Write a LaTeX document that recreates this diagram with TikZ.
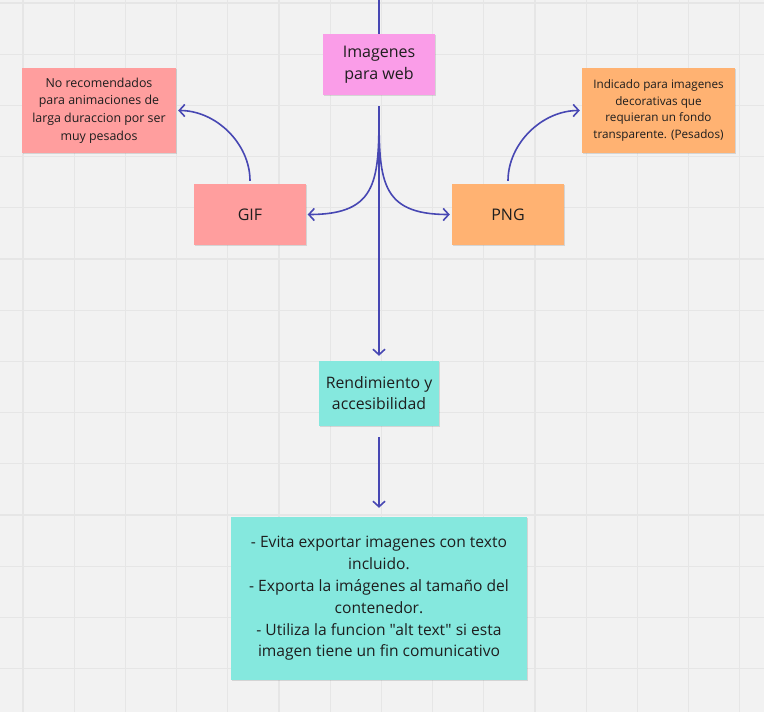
\documentclass[tikz,border=0pt]{standalone}
\usepackage{fontspec}
\setmainfont{Open Sans}[Ligatures=TeXOff]
\usetikzlibrary{arrows.meta,shadows}
\definecolor{bgc}{HTML}{F2F2F2}
\definecolor{gridc}{HTML}{E6E6E6}
\definecolor{pinkc}{HTML}{FA9DE8}
\definecolor{salmonc}{HTML}{FF9E9E}
\definecolor{orangec}{HTML}{FFB272}
\definecolor{tealc}{HTML}{85E8DE}
\definecolor{linkc}{HTML}{4747B3}
\definecolor{txtc}{HTML}{1E1E1E}
\tikzset{
  sticky/.style={rectangle, inner sep=0pt, align=center, text=txtc,
    drop shadow={shadow xshift=0.5pt, shadow yshift=-1.2pt, opacity=0.12, fill=black}},
  link/.style={draw=linkc, line width=1.6pt,
    -{Straight Barb[length=5.5pt,width=12pt,line width=1.6pt]}},
  plainlink/.style={draw=linkc, line width=1.6pt},
}
\begin{document}
\begin{tikzpicture}[x=1pt,y=-1pt]
\useasboundingbox (0,0) rectangle (764,712);
\fill[bgc] (0,0) rectangle (764,712);
\foreach \k in {0,...,14} {
  \draw[gridc, line width=1.3pt] ({23+51.2*\k},0) -- ({23+51.2*\k},712);
  \draw[gridc, line width=1.3pt] (0,{3+51.2*\k}) -- (764,{3+51.2*\k});
}
% nodes
\node[sticky, fill=pinkc, minimum width=112pt, minimum height=61pt,
  font=\fontsize{16}{22}\selectfont] (img) at (379,64.5) {Imagenes\\para web};
\node[sticky, fill=salmonc, minimum width=112pt, minimum height=61pt,
  font=\fontsize{16}{20}\selectfont] (gif) at (250,214.5) {GIF};
\node[sticky, fill=orangec, minimum width=112pt, minimum height=61pt,
  font=\fontsize{16}{20}\selectfont] (png) at (508,214.5) {PNG};
\node[sticky, fill=salmonc, minimum width=154pt, minimum height=85pt,
  font=\fontsize{12.4}{17.6}\selectfont] (gifnote) at (99,110.5)
  {No recomendados\\para animaciones de\\larga duraccion por ser\\muy pesados};
\node[sticky, fill=orangec, minimum width=153pt, minimum height=85pt,
  font=\fontsize{11.7}{16.4}\selectfont] (pngnote) at (658.5,110.5)
  {Indicado para imagenes\\decorativas que\\requieran un fondo\\transparente. (Pesados)};
\node[sticky, fill=tealc, minimum width=120pt, minimum height=65pt,
  font=\fontsize{15.8}{21}\selectfont] (rend) at (379,393.5) {Rendimiento y\\accesibilidad};
\node[sticky, fill=tealc, minimum width=296pt, minimum height=163pt,
  font=\fontsize{15.6}{21.8}\selectfont] (tips) at (379,598.5)
  {- Evita exportar imagenes con texto\\incluido.\\- Exporta la imágenes al tamaño del\\contenedor.\\- Utiliza la funcion "alt text" si esta\\imagen tiene un fin comunicativo};
% connectors
\coordinate (topend) at (379,0);
\coordinate (split) at ([yshift=-11pt]img.south);
\draw[plainlink] (topend) -- (img.north);
\draw[link, shorten >=5pt] (split) -- (rend.north);
\draw[link, shorten >=1.5pt] (split) .. controls +(0,73) and +(73,0) .. (gif.east);
\draw[link, shorten >=2pt] (split) .. controls +(0,73) and +(-73,0) .. (png.west);
\draw[link, shorten <=3pt, shorten >=2pt] (gif.north) .. controls +(0,-40) and +(40,0) .. (gifnote.east);
\draw[link, shorten <=3pt, shorten >=2pt] (png.north) .. controls +(0,-40) and +(-40,0) .. (pngnote.west);
\draw[link, shorten <=11pt, shorten >=9pt] (rend.south) -- (tips.north);
\end{tikzpicture}
\end{document}
